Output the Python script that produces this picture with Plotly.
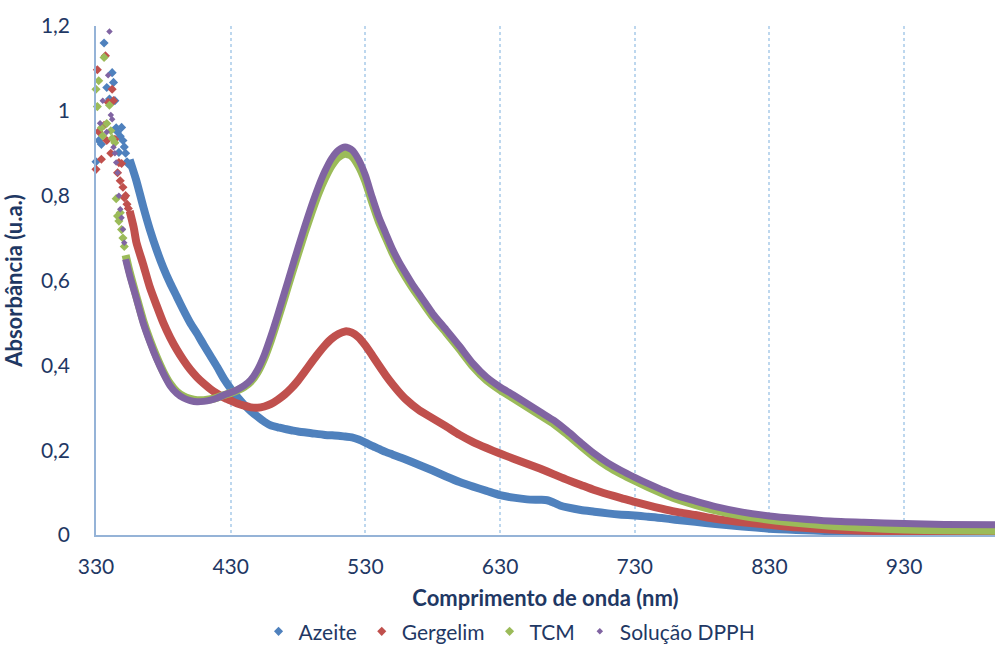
import plotly.graph_objects as go

# Wavelength grid (nm) and tick labels
x_ticks = [330, 430, 530, 630, 730, 830, 930]
y_ticks = [0, 0.2, 0.4, 0.6, 0.8, 1.0, 1.2]
y_tick_labels = ["0", "0,2", "0,4", "0,6", "0,8", "1", "1,2"]

series_names = ["Azeite", "Gergelim", "TCM", "Solução DPPH"]
series_colors = ["#4F81BD", "#C0504D", "#9BBB59", "#8064A2"]
marker_sizes = [7, 7, 7, 5]

# Noisy low-wavelength readings (scattered points)
azeite_noise_nm = [330, 332, 334, 336, 338, 340, 342, 343, 344, 345, 346, 347, 348, 349, 350, 351, 352, 353, 354]
azeite_noise_abs = [0.880, 0.930, 0.921, 1.160, 1.055, 1.028, 1.090, 1.067, 1.024, 0.960, 0.950, 0.902, 0.940,
                    0.961, 0.930, 0.915, 0.900, 0.880, 0.874]
gergelim_noise_nm = [330, 331, 332, 334, 336, 337, 338, 339, 341, 342, 343, 344, 346, 347, 348, 349, 350, 351, 352, 353, 354]
gergelim_noise_abs = [0.862, 1.097, 0.951, 0.886, 0.966, 1.130, 0.930, 1.020, 0.900, 1.051, 1.024, 0.933, 0.854,
                      0.878, 0.835, 0.876, 0.820, 0.795, 0.800, 0.780, 0.770]
tcm_noise_nm = [329, 330, 331, 332, 334, 335, 336, 338, 340, 341, 342, 344, 345, 346, 347, 348, 349, 350, 351]
tcm_noise_abs = [0.984, 1.051, 1.010, 1.071, 0.960, 0.941, 1.126, 0.970, 1.013, 0.953, 0.935, 0.925, 0.793,
                 0.752, 0.740, 0.760, 0.720, 0.700, 0.680]
dpph_noise_nm = [333, 335, 336, 338, 339, 340, 341, 342, 343, 344, 345, 346, 347, 348, 349, 350, 351]
dpph_noise_abs = [0.971, 1.024, 1.203, 0.950, 1.084, 1.187, 0.990, 0.980, 0.914, 0.900, 0.878, 0.854, 0.800,
                  0.768, 0.748, 0.721, 0.689]

# Smooth spectra
azeite_nm = [355, 360, 365, 370, 375, 380, 385, 390, 395, 400, 405, 410, 415, 420, 425, 430, 435, 440, 445,
             450, 455, 460, 465, 470, 475, 480, 490, 500, 510, 515, 520, 525, 530, 535, 540, 545, 550, 555,
             560, 570, 580, 590, 600, 610, 620, 630, 640, 650, 660, 665, 670, 675, 680, 690, 700, 710, 720,
             730, 740, 750, 760, 775, 790, 810, 830, 850, 875, 900, 950, 1000]
azeite_abs = [0.885, 0.835, 0.775, 0.720, 0.672, 0.630, 0.594, 0.562, 0.530, 0.500, 0.475, 0.448, 0.422,
              0.396, 0.368, 0.345, 0.325, 0.307, 0.292, 0.279, 0.267, 0.258, 0.254, 0.250, 0.247, 0.244,
              0.240, 0.236, 0.234, 0.232, 0.230, 0.225, 0.218, 0.210, 0.203, 0.196, 0.190, 0.184, 0.178,
              0.165, 0.152, 0.138, 0.125, 0.114, 0.104, 0.094, 0.088, 0.084, 0.083, 0.082, 0.076, 0.069,
              0.065, 0.059, 0.055, 0.051, 0.048, 0.046, 0.043, 0.040, 0.036, 0.031, 0.026, 0.020, 0.015,
              0.012, 0.009, 0.007, 0.005, 0.004]

gergelim_nm = [355, 358, 360, 365, 370, 375, 380, 385, 390, 395, 400, 405, 410, 415, 420, 425, 430, 435, 440,
               445, 450, 455, 460, 465, 470, 475, 480, 485, 490, 495, 500, 505, 510, 515, 520, 525, 530, 535,
               540, 545, 550, 555, 560, 570, 580, 590, 600, 610, 620, 630, 640, 650, 660, 670, 680, 690, 700,
               710, 720, 730, 740, 750, 760, 775, 790, 810, 830, 850, 875, 900, 930, 960, 1000]
gergelim_abs = [0.764, 0.725, 0.690, 0.638, 0.584, 0.541, 0.500, 0.466, 0.437, 0.412, 0.390, 0.372, 0.357,
                0.344, 0.333, 0.324, 0.317, 0.310, 0.305, 0.301, 0.300, 0.303, 0.309, 0.319, 0.331, 0.346,
                0.364, 0.385, 0.407, 0.428, 0.447, 0.463, 0.474, 0.480, 0.477, 0.466, 0.447, 0.424, 0.400,
                0.377, 0.356, 0.337, 0.320, 0.294, 0.275, 0.256, 0.236, 0.219, 0.205, 0.192, 0.180, 0.168,
                0.156, 0.143, 0.130, 0.118, 0.106, 0.096, 0.087, 0.078, 0.070, 0.062, 0.055, 0.047, 0.038,
                0.030, 0.024, 0.018, 0.013, 0.010, 0.008, 0.006, 0.005]

tcm_nm = [352, 355, 360, 365, 370, 375, 380, 385, 390, 395, 400, 405, 410, 415, 420, 425, 430, 435, 440, 445,
          450, 455, 460, 465, 470, 475, 480, 485, 490, 495, 500, 505, 510, 515, 520, 525, 530, 535, 540, 545,
          550, 555, 560, 565, 570, 575, 580, 590, 600, 610, 620, 630, 640, 650, 660, 670, 680, 690, 700, 710,
          720, 730, 740, 750, 760, 775, 790, 810, 830, 850, 875, 900, 930, 960, 1000]
tcm_abs = [0.660, 0.620, 0.562, 0.506, 0.460, 0.420, 0.385, 0.357, 0.338, 0.327, 0.321, 0.318, 0.318, 0.320,
           0.324, 0.330, 0.335, 0.341, 0.349, 0.362, 0.384, 0.417, 0.460, 0.509, 0.560, 0.612, 0.663, 0.713,
           0.760, 0.804, 0.841, 0.871, 0.891, 0.899, 0.893, 0.870, 0.834, 0.785, 0.739, 0.702, 0.666, 0.635,
           0.608, 0.583, 0.560, 0.537, 0.515, 0.477, 0.438, 0.397, 0.365, 0.342, 0.322, 0.302, 0.282, 0.262,
           0.237, 0.210, 0.184, 0.162, 0.144, 0.128, 0.113, 0.099, 0.086, 0.071, 0.058, 0.045, 0.036, 0.029,
           0.022, 0.017, 0.013, 0.011, 0.010]

dpph_nm = [352, 355, 360, 365, 370, 375, 380, 385, 390, 395, 400, 405, 410, 415, 420, 425, 430, 435, 440, 445,
           450, 455, 460, 465, 470, 475, 480, 485, 490, 495, 500, 505, 510, 515, 520, 525, 530, 535, 540, 545,
           550, 555, 560, 565, 570, 575, 580, 590, 600, 610, 620, 630, 640, 650, 660, 670, 680, 690, 700, 710,
           720, 730, 740, 750, 760, 775, 790, 810, 830, 850, 875, 900, 930, 960, 1000]
dpph_abs = [0.650, 0.612, 0.557, 0.500, 0.455, 0.415, 0.381, 0.352, 0.334, 0.323, 0.317, 0.314, 0.315, 0.318,
            0.323, 0.330, 0.336, 0.343, 0.352, 0.366, 0.390, 0.425, 0.470, 0.520, 0.572, 0.625, 0.677, 0.728,
            0.776, 0.820, 0.858, 0.888, 0.907, 0.915, 0.908, 0.885, 0.848, 0.797, 0.750, 0.712, 0.675, 0.644,
            0.617, 0.591, 0.568, 0.545, 0.522, 0.484, 0.445, 0.404, 0.372, 0.349, 0.330, 0.310, 0.290, 0.270,
            0.245, 0.218, 0.192, 0.170, 0.152, 0.136, 0.121, 0.107, 0.094, 0.080, 0.067, 0.054, 0.045, 0.039,
            0.033, 0.030, 0.027, 0.025, 0.024]

noise = [(azeite_noise_nm, azeite_noise_abs), (gergelim_noise_nm, gergelim_noise_abs),
         (tcm_noise_nm, tcm_noise_abs), (dpph_noise_nm, dpph_noise_abs)]
smooth = [(azeite_nm, azeite_abs), (gergelim_nm, gergelim_abs), (tcm_nm, tcm_abs), (dpph_nm, dpph_abs)]
band_widths = [8, 8, 8, 7]

TEXT = "#1F3864"
FONT = "Lato"

fig = go.Figure()
for i, name in enumerate(series_names):
    col = series_colors[i]
    # dense measured band
    fig.add_trace(go.Scatter(
        x=smooth[i][0], y=smooth[i][1], mode="lines", name=name, showlegend=False,
        line=dict(color=col, width=band_widths[i], shape="spline", smoothing=0.6),
        hoverinfo="skip"))
    # scattered readings near the detector limit
    fig.add_trace(go.Scatter(
        x=noise[i][0], y=noise[i][1], mode="markers", name=name, showlegend=False,
        marker=dict(symbol="diamond", size=marker_sizes[i], color=col, line=dict(width=0)),
        cliponaxis=False))

# legend entries (diamond markers only)
for i, name in enumerate(series_names):
    fig.add_trace(go.Scatter(
        x=[None], y=[None], mode="markers", name=name,
        marker=dict(symbol="diamond", size=marker_sizes[i], color=series_colors[i])))

fig.update_layout(
    width=995, height=645,
    margin=dict(l=96, r=0, t=26, b=110, autoexpand=False),
    paper_bgcolor="white", plot_bgcolor="white",
    font=dict(family=FONT, size=21, color=TEXT),
    showlegend=True,
    legend=dict(orientation="h", x=0.46, xanchor="center", y=-0.19, yanchor="middle",
                font=dict(family=FONT, size=21, color=TEXT), itemwidth=30,
                bgcolor="rgba(0,0,0,0)"),
    xaxis=dict(
        range=[330, 997.5], tickvals=x_ticks, ticktext=[str(v) for v in x_ticks],
        showgrid=True, gridcolor="#BDD7EE", gridwidth=1.5, griddash="dot",
        showline=True, linecolor="#95B3D7", linewidth=1.5, zeroline=False,
        ticks="", ticklabelstandoff=12, automargin=False,
        tickfont=dict(family=FONT, size=21, color=TEXT),
        title=dict(text="<b>Comprimento de onda (nm)</b>", standoff=14,
                   font=dict(family=FONT, size=22, color=TEXT)),
    ),
    yaxis=dict(
        range=[0, 1.2], tickvals=y_ticks, ticktext=y_tick_labels,
        showgrid=False, showline=True, linecolor="#95B3D7", linewidth=1.5, zeroline=False,
        ticks="", ticklabelstandoff=20, automargin=False,
        tickfont=dict(family=FONT, size=21, color=TEXT),
        title=dict(text="<b>Absorbância (u.a.)</b>", standoff=12,
                   font=dict(family=FONT, size=22, color=TEXT)),
    ),
)

fig.write_html("out.html")
